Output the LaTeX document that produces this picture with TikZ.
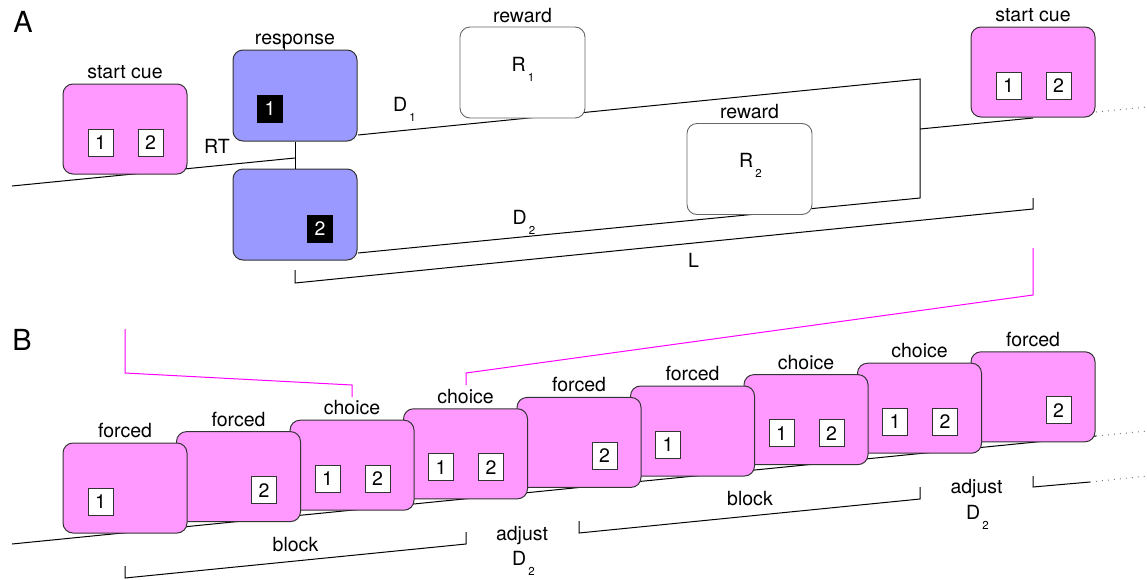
\documentclass[tikz,border=0pt]{standalone}
\usepackage{fontspec}
\setmainfont{TeX Gyre Heros}
\definecolor{cuepink}{HTML}{FF99FF}
\definecolor{respblue}{HTML}{9999FF}
\definecolor{boxline}{HTML}{333333}
\definecolor{magline}{HTML}{FF00FF}
\newcommand\lowsub[1]{\kern2pt\raisebox{-10pt}{\fontsize{11.5}{12}\selectfont #1}}
\begin{document}
\begin{tikzpicture}[x=1pt,y=-1pt,
  font=\fontsize{19.5}{26}\selectfont,
  cue/.style={draw=boxline, fill=cuepink, rounded corners=10pt, line width=1pt,
    minimum width=124pt, minimum height=90pt, inner sep=0pt},
  resp/.style={cue, fill=respblue, minimum height=91pt},
  rew/.style={draw=gray!80!black, fill=white, rounded corners=10pt, line width=0.9pt,
    minimum width=125pt, minimum height=91pt, inner sep=0pt},
  key/.style={draw=boxline, fill=white, line width=0.8pt, minimum width=25pt,
    minimum height=27pt, inner sep=0pt},
  bkey/.style={fill=black, text=white, minimum width=26pt, minimum height=28pt, inner sep=0pt},
  lab/.style={anchor=base, inner sep=0pt},
  txt/.style={anchor=base west, inner sep=0pt},
  tl/.style={line width=1pt, black},
  dots/.style={gray, line width=1pt, dash pattern=on 1pt off 5pt},
  mag/.style={magline, line width=1pt}
]
\useasboundingbox (0,0) rectangle (1147,579);

% ---------------- Panel A ----------------
\node[inner sep=0pt, font=\fontsize{29}{30}\selectfont] (labA) at (23,22) {A};

% coordinates of the time lines
\coordinate (a0) at (12,186);
\coordinate (a1) at (295,158);
\coordinate (d1s) at (358,135);
\coordinate (d1e) at (920,79);
\coordinate (d2s) at (358,253);
\coordinate (d2e) at (920,198);
\coordinate (jn) at (920,129);
\coordinate (sc2b) at (1033,118);
\coordinate (sc2r) at (1096,112);
\coordinate (aend) at (1147,107);
\coordinate (l0) at (295,270);
\coordinate (l1) at (295,283);
\coordinate (l2) at (1033,209);
\coordinate (l3) at (1033,198);
\coordinate (tk0) at (284,43);
\coordinate (tk1) at (284,50);

\draw[tl] (a0) -- (a1);
\draw[tl] (d1s) -- (d1e) -- (d2e) -- (d2s);
\draw[tl] (jn) -- (sc2b);
\draw[dots] (sc2r) -- (aend);
\draw[tl] (l0) -- (l1) -- (l2) -- (l3);
\draw[tl] (tk0) -- (tk1);

% boxes
\node[cue] (sc1) at (125,129) {};
\node[key] (sc1k1) at (100.5,143) {1};
\node[key] (sc1k2) at (150.5,143) {2};
\node[lab] (sc1l) at (125,78.5) {start cue};

\node[resp] (r1) at (295,95.5) {};
\node[bkey] (r1k) at (270,109) {1};
\node[lab] (r1l) at (295,44.5) {response};

\node[resp] (r2) at (295,214.5) {};
\node[bkey] (r2k) at (320,229) {2};

\draw[tl] (r1.south) -- (r2.north);

\node[rew] (rw1) at (522.5,72.5) {};
\node[txt] (rw1t) at (511.5,71) {R\lowsub{1}};
\node[lab] (rw1l) at (522.5,22) {reward};

\node[rew] (rw2) at (749.5,169) {};
\node[txt] (rw2t) at (739,167) {R\lowsub{2}};
\node[lab] (rw2l) at (749.5,118.5) {reward};

\node[cue] (sc2) at (1033,72) {};
\node[key] (sc2k1) at (1008.5,86) {1};
\node[key] (sc2k2) at (1058.5,86) {2};
\node[lab] (sc2l) at (1033,21.5) {start cue};

\node[txt] (rt) at (204,153) {RT};
\node[txt] (dd1) at (393,111) {D\lowsub{1}};
\node[txt] (dd2) at (512.5,224) {D\lowsub{2}};
\node[txt] (ll) at (688,267) {L};

% magenta connectors
\coordinate (m1a) at (1033,248);
\coordinate (m1b) at (1033,295);
\coordinate (m1c) at (466,373);
\coordinate (m1d) at (466,385);
\coordinate (m2a) at (125,329);
\coordinate (m2b) at (125,373);
\coordinate (m2c) at (352,385);
\coordinate (m2d) at (352,397);
\draw[mag] (m1a) -- (m1b) -- (m1c) -- (m1d);
\draw[mag] (m2a) -- (m2b) -- (m2c) -- (m2d);

% ---------------- Panel B ----------------
\node[inner sep=0pt, font=\fontsize{29}{30}\selectfont] (labB) at (22,340) {B};

\coordinate (b0) at (12,544);
\coordinate (b1) at (1096,436);
\coordinate (b2) at (1147,431);
\draw[tl] (b0) -- (b1);
\draw[dots] (b1) -- (b2);

% brackets
\coordinate (k1a) at (125,566);
\coordinate (k1b) at (125,578);
\coordinate (k1c) at (466,544);
\coordinate (k1d) at (466,532);
\coordinate (k2a) at (579,521);
\coordinate (k2b) at (579,533);
\coordinate (k2c) at (920,499);
\coordinate (k2d) at (920,487);
\coordinate (k3a) at (1033,476);
\coordinate (k3b) at (1033,487);
\coordinate (k3c) at (1090,482);
\coordinate (k3d) at (1147,476);
\draw[tl] (k1a) -- (k1b) -- (k1c) -- (k1d);
\draw[tl] (k2a) -- (k2b) -- (k2c) -- (k2d);
\draw[tl] (k3a) -- (k3b) -- (k3c);
\draw[dots] (k3c) -- (k3d);

\node[lab] (blk1) at (295.5,551) {block};
\node[lab] (blk2) at (750,505) {block};
\node[lab] (adj1) at (522,540) {adjust};
\node[txt] (adj1d) at (512,565) {D\lowsub{2}};
\node[lab] (adj2) at (976.5,493) {adjust};
\node[txt] (adj2d) at (966,519) {D\lowsub{2}};

% trial boxes, drawn right to left so the left ones lie on top
\node[cue] (t9) at (1033,396.8) {};
\node[key] (t9k) at (1058.5,410.3) {2};
\node[lab] (t9l) at (1033,346.3) {forced};

\node[cue] (t8) at (919.5,408.2) {};
\node[key] (t8k1) at (895,421.7) {1};
\node[key] (t8k2) at (945,421.7) {2};
\node[lab] (t8l) at (919.5,357.7) {choice};

\node[cue] (t7) at (806,419.6) {};
\node[key] (t7k1) at (781.5,433.1) {1};
\node[key] (t7k2) at (831.5,433.1) {2};
\node[lab] (t7l) at (806,369.1) {choice};

\node[cue] (t6) at (692.5,431) {};
\node[key] (t6k) at (668,444.5) {1};
\node[lab] (t6l) at (692.5,380.5) {forced};

\node[cue] (t5) at (579,442.4) {};
\node[key] (t5k) at (604.5,455.9) {2};
\node[lab] (t5l) at (579,391.9) {forced};

\node[cue] (t4) at (465.5,453.8) {};
\node[key] (t4k1) at (441,467.3) {1};
\node[key] (t4k2) at (491,467.3) {2};
\node[lab] (t4l) at (465.5,403.3) {choice};

\node[cue] (t3) at (352,465.2) {};
\node[key] (t3k1) at (327.5,478.7) {1};
\node[key] (t3k2) at (377.5,478.7) {2};
\node[lab] (t3l) at (352,414.7) {choice};

\node[cue] (t2) at (238.5,476.6) {};
\node[key] (t2k) at (264,490.1) {2};
\node[lab] (t2l) at (238.5,426.1) {forced};

\node[cue] (t1) at (125,488) {};
\node[key] (t1k) at (100.5,501.5) {1};
\node[lab] (t1l) at (125,437.5) {forced};
\end{tikzpicture}
\end{document}
